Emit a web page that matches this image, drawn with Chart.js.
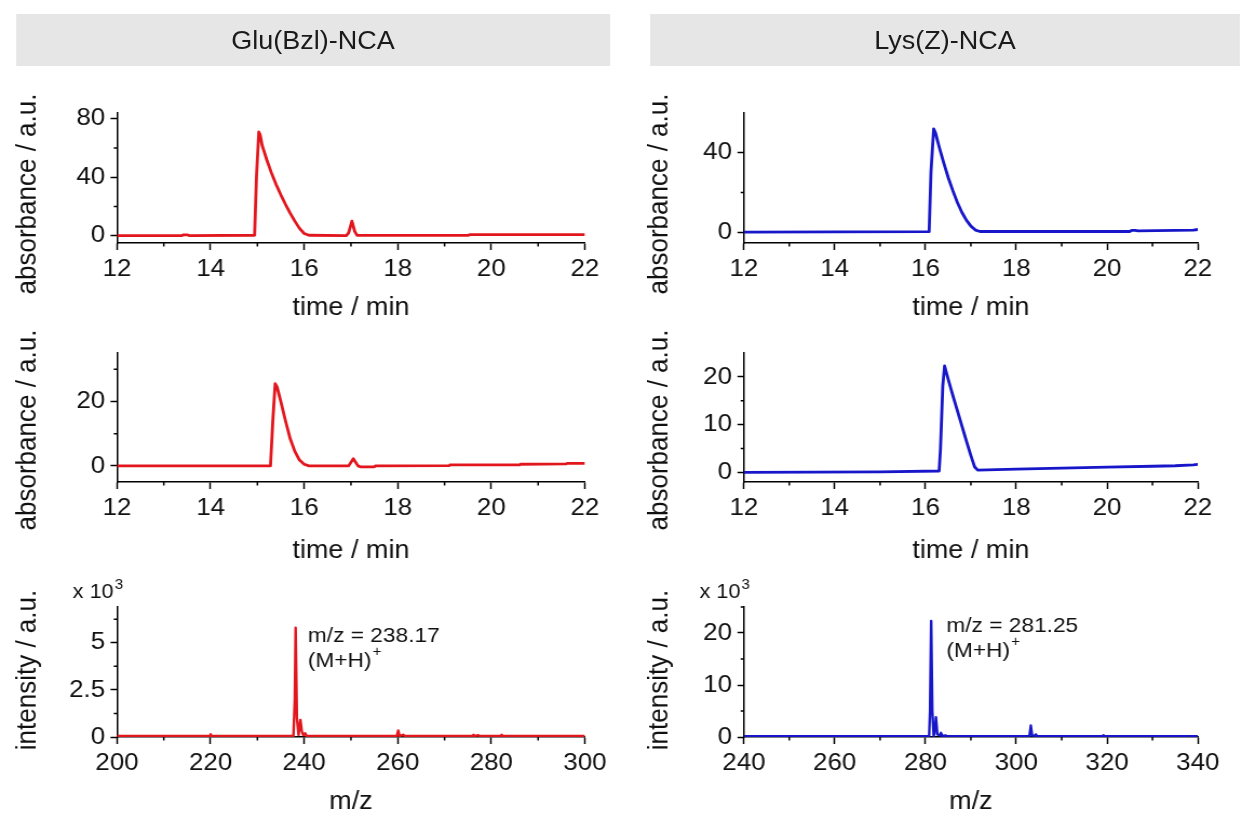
<!DOCTYPE html>
<html>
<head>
<meta charset="utf-8">
<script src="https://cdn.jsdelivr.net/npm/chart.js@4.4.1/dist/chart.umd.min.js"></script>
<style>
  html, body { margin: 0; background: #fff; }
  body { width: 1240px; height: 817px; overflow: hidden; position: relative; }
  #fig { position: absolute; left: 0; top: 0; height: 817px; transform-origin: 0 0; }
  .head { position: absolute; background: #e6e6e6; color: #1a1a1a; font: 25px "Liberation Sans", Arial, sans-serif;
          display: flex; align-items: center; justify-content: center; }
  canvas { position: absolute; }
</style>
</head>
<body>
<div id="fig"></div>
<script>
// --- Glu(Bzl)-NCA, UV trace (top) ---
const gluUvTime = [12, 13.38, 13.42, 13.5, 13.55, 14.94, 14.98, 15.03, 15.06, 15.1, 15.2, 15.3, 15.4, 15.5, 15.6, 15.7, 15.8, 15.9, 16.0, 16.1, 16.9, 16.95, 17.02, 17.08, 17.13, 19.5, 19.55, 22];
const gluUvAbs  = [0, 0, 0.6, 0.6, 0, 0.3, 40, 71, 69, 62, 52, 43, 35, 28, 21.5, 15.5, 10, 5, 1.5, 0.3, 0.1, 2, 10, 3, 0.2, 0.2, 0.8, 0.8];

// --- Lys(Z)-NCA, UV trace (top) ---
const lysUvTime = [12, 16.08, 16.12, 16.18, 16.22, 16.3, 16.4, 16.5, 16.6, 16.7, 16.8, 16.9, 17.0, 17.1, 17.2, 20.5, 20.55, 20.62, 20.68, 21.9, 22];
const lysUvAbs  = [0, 0.2, 30, 52, 50, 43, 35, 27.5, 21, 15, 10, 6, 3, 1, 0.3, 0.3, 0.9, 0.9, 0.6, 1.0, 1.3];

// --- Glu(Bzl)-NCA, second trace ---
const gluTime2 = [12, 15.28, 15.33, 15.38, 15.42, 15.5, 15.6, 15.7, 15.8, 15.9, 16.0, 16.1, 16.95, 17.05, 17.15, 17.2, 17.5, 17.52, 19.1, 19.12, 20.6, 20.62, 21.6, 21.62, 22];
const gluAbs2  = [0, 0, 14, 25.5, 24.5, 20, 14, 8.5, 4.5, 1.8, 0.5, 0, 0, 2.2, 0, -0.3, -0.3, 0, 0.1, 0.3, 0.3, 0.5, 0.6, 0.8, 0.8];

// --- Lys(Z)-NCA, second trace ---
const lysTime2 = [12, 15, 16.3, 16.33, 16.38, 16.42, 16.5, 16.6, 16.7, 16.8, 16.9, 17.0, 17.08, 17.15, 18, 19, 20, 21, 21.5, 21.9, 22];
const lysAbs2  = [0, 0.1, 0.3, 5, 18, 22.3, 19.5, 16.2, 13, 9.8, 6.6, 3.5, 1.2, 0.5, 0.7, 0.9, 1.1, 1.3, 1.4, 1.6, 1.7];

// --- mass spectra (intensity x 10^3) ---
const gluMz  = [200, 219.8, 220, 220.2, 237.7, 238.0, 238.17, 238.45, 238.8, 239.0, 239.2, 239.5, 239.8, 240.2, 240.5, 259.8, 260.1, 260.4, 261.2, 261.5, 276, 276.2, 276.4, 277.2, 277.4, 282, 282.2, 282.4, 300];
const gluInt = [0.05, 0.05, 0.15, 0.05, 0.05, 2, 5.8, 1, 0.1, 0.5, 0.9, 0.3, 0.1, 0.2, 0.05, 0.05, 0.35, 0.05, 0.12, 0.05, 0.05, 0.12, 0.05, 0.1, 0.05, 0.05, 0.12, 0.05, 0.05];

const lysMz  = [240, 280.8, 281.0, 281.25, 281.5, 281.8, 282.1, 282.3, 282.6, 283.2, 283.4, 283.7, 284.5, 284.8, 302.9, 303.2, 303.5, 304.1, 304.3, 304.6, 319, 319.2, 319.4, 340];
const lysInt = [0.15, 0.15, 5, 22.3, 5, 0.2, 1.5, 3.8, 0.5, 0.3, 0.8, 0.2, 0.3, 0.15, 0.15, 2.2, 0.3, 0.2, 0.5, 0.15, 0.15, 0.35, 0.15, 0.15];

// --- axis ticks ---
const timeMajor = [12, 14, 16, 18, 20, 22];
const timeMinor = [13, 15, 17, 19, 21];
const gluMzMajor = [200, 220, 240, 260, 280, 300];
const gluMzMinor = [210, 230, 250, 270, 290];
const lysMzMajor = [240, 260, 280, 300, 320, 340];
const lysMzMinor = [250, 270, 290, 310, 330];

const headers = ["Glu(Bzl)-NCA", "Lys(Z)-NCA"];

const RED = "#e2171e", BLUE = "#1717c9";
const FONT = '"Liberation Sans", Arial, sans-serif';
const SX = 1.08; // lettering in this figure is slightly widened; draw narrow and stretch the whole figure

const fig = document.getElementById("fig");
fig.style.width = (1240 / SX) + "px";
fig.style.transform = `scaleX(${SX})`;

// column / row frames in page pixels
const COLS = [
  { left: 0, right: 620, areaL: 117, areaR: 585, titleX: 28, head: [16, 610] },
  { left: 620, right: 1240, areaL: 744, areaR: 1198, titleX: 660, head: [650, 1240] },
];
const ROWS = [
  { top: 70, bottom: 330, areaT: 113, areaB: 243, titleY: 194, xTitlePad: 7 },
  { top: 330, bottom: 575, areaT: 353, areaB: 482, titleY: 430, xTitlePad: 9 },
  { top: 575, bottom: 817, areaT: 607, areaB: 737, titleY: 670, xTitlePad: 0 },
];

COLS.forEach((c, i) => {
  const d = document.createElement("div");
  d.className = "head";
  d.textContent = headers[i];
  Object.assign(d.style, { left: c.head[0] / SX + "px", width: (c.head[1] - c.head[0]) / SX + "px", top: "14px", height: "52px" });
  fig.appendChild(d);
});

const panels = [
  { col: 0, row: 0, x: gluUvTime, y: gluUvAbs, color: RED, lw: 2.8, xMin: 12, xMax: 22, xMajor: timeMajor, xMinor: timeMinor,
    yMin: -5, yMax: 84, yMajor: [0, 40, 80], yMinor: [20, 60], yTitle: "absorbance / a.u.", xTitle: "time / min" },
  { col: 1, row: 0, x: lysUvTime, y: lysUvAbs, color: BLUE, lw: 2.8, xMin: 12, xMax: 22, xMajor: timeMajor, xMinor: timeMinor,
    yMin: -5.5, yMax: 60, yMajor: [0, 40], yMinor: [20], yTitle: "absorbance / a.u.", xTitle: "time / min" },
  { col: 0, row: 1, x: gluTime2, y: gluAbs2, color: RED, lw: 2.8, xMin: 12, xMax: 22, xMajor: timeMajor, xMinor: timeMinor,
    yMin: -5, yMax: 35, yMajor: [0, 20], yMinor: [10, 30], yTitle: "absorbance / a.u.", xTitle: "time / min" },
  { col: 1, row: 1, x: lysTime2, y: lysAbs2, color: BLUE, lw: 2.8, xMin: 12, xMax: 22, xMajor: timeMajor, xMinor: timeMinor,
    yMin: -2, yMax: 25, yMajor: [0, 10, 20], yMinor: [5, 15], yTitle: "absorbance / a.u.", xTitle: "time / min" },
  { col: 0, row: 2, x: gluMz, y: gluInt, color: RED, lw: 2.4, xMin: 200, xMax: 300, xMajor: gluMzMajor, xMinor: gluMzMinor,
    yMin: 0, yMax: 6.9, yMajor: [0, 2.5, 5], yMinor: [1.25, 3.75, 6.25], yTitle: "intensity / a.u.", xTitle: "m/z",
    note: { x: 240.8, y: 5.35, text: "m/z = 238.17" }, exp: true },
  { col: 1, row: 2, x: lysMz, y: lysInt, color: BLUE, lw: 2.4, xMin: 240, xMax: 340, xMajor: lysMzMajor, xMinor: lysMzMinor,
    yMin: 0, yMax: 25, yMajor: [0, 10, 20], yMinor: [5, 15, 25], yTitle: "intensity / a.u.", xTitle: "m/z",
    note: { x: 284.6, y: 21.4, text: "m/z = 281.25" }, exp: true },
];

// minor ticks, rotated y title, x10^3 marker and peak labels
function extras(p, col, row) {
  return {
    id: "extras",
    afterDraw(chart) {
      const { ctx, chartArea: a } = chart;
      const xs = chart.scales.x, ys = chart.scales.y;
      ctx.save();
      ctx.strokeStyle = "#000";
      ctx.lineWidth = 1.5;
      ctx.beginPath();
      p.xMinor.forEach(v => { const px = xs.getPixelForValue(v); ctx.moveTo(px, a.bottom); ctx.lineTo(px, a.bottom + 3.5); });
      p.yMinor.forEach(v => { const py = ys.getPixelForValue(v); ctx.moveTo(a.left, py); ctx.lineTo(a.left - 3, py); });
      ctx.stroke();

      ctx.fillStyle = "#111";
      ctx.font = `26px ${FONT}`;
      ctx.textAlign = "center";
      ctx.textBaseline = "middle";
      ctx.translate((col.titleX - col.left) / SX, row.titleY - row.top);
      ctx.rotate(-Math.PI / 2);
      ctx.fillText(p.yTitle, 0, 0);
      ctx.restore();

      ctx.save();
      ctx.fillStyle = "#111";
      ctx.textBaseline = "alphabetic";
      ctx.textAlign = "left";
      if (p.exp) {
        const ex = a.left - 41, ey = a.top - 9;
        ctx.font = `20px ${FONT}`;
        ctx.fillText("x 10", ex, ey);
        const w = ctx.measureText("x 10").width;
        ctx.font = `14px ${FONT}`;
        ctx.fillText("3", ex + w + 1, ey - 9);
      }
      if (p.note) {
        const nx = xs.getPixelForValue(p.note.x), ny = ys.getPixelForValue(p.note.y);
        ctx.textBaseline = "middle";
        ctx.font = `21px ${FONT}`;
        ctx.fillText(p.note.text, nx, ny);
        const ly = ny + 25;
        ctx.fillText("(M+H)", nx, ly);
        const w = ctx.measureText("(M+H)").width;
        ctx.font = `14px ${FONT}`;
        ctx.fillText("+", nx + w + 1, ly - 9);
      }
      ctx.restore();
    },
  };
}

panels.forEach(p => {
  const col = COLS[p.col], row = ROWS[p.row];
  const cv = document.createElement("canvas");
  const w = Math.round((col.right - col.left) / SX), h = row.bottom - row.top;
  cv.width = w; cv.height = h;
  Object.assign(cv.style, { left: col.left / SX + "px", top: row.top + "px", width: w + "px", height: h + "px" });
  fig.appendChild(cv);

  const pts = p.x.map((x, i) => ({ x, y: p.y[i] }));
  const tickFont = { family: FONT, size: 24 };
  new Chart(cv, {
    type: "scatter",
    data: { datasets: [{ data: pts, showLine: true, borderColor: p.color, borderWidth: p.lw, pointRadius: 0, tension: 0, borderJoinStyle: "round" }] },
    options: {
      responsive: false, animation: false, events: [],
      layout: { padding: { left: 0, right: (col.right - col.areaR) / SX, top: row.areaT - row.top, bottom: 0 } },
      plugins: { legend: { display: false }, tooltip: { enabled: false } },
      scales: {
        x: {
          type: "linear", min: p.xMin, max: p.xMax,
          afterBuildTicks: s => { s.ticks = p.xMajor.map(v => ({ value: v })); },
          afterFit: s => { s.height = row.bottom - row.areaB; },
          grid: { drawOnChartArea: false, drawTicks: true, tickLength: 7, tickColor: "#000", tickWidth: 1.5 },
          border: { display: true, color: "#000", width: 1.5 },
          ticks: { color: "#111", font: tickFont, padding: 5, maxRotation: 0, autoSkip: false, callback: v => String(v) },
          title: { display: true, text: p.xTitle, color: "#111", font: { family: FONT, size: 25 }, padding: { top: 0, bottom: row.xTitlePad } },
        },
        y: {
          type: "linear", min: p.yMin, max: p.yMax,
          afterBuildTicks: s => { s.ticks = p.yMajor.map(v => ({ value: v })); },
          afterFit: s => { s.width = (col.areaL - col.left) / SX; },
          grid: { drawOnChartArea: false, drawTicks: true, tickLength: 6, tickColor: "#000", tickWidth: 1.5 },
          border: { display: true, color: "#000", width: 1.5 },
          ticks: { color: "#111", font: tickFont, padding: 5, autoSkip: false, callback: v => String(v) },
        },
      },
    },
    plugins: [extras(p, col, row)],
  });
});
</script>
</body>
</html>
